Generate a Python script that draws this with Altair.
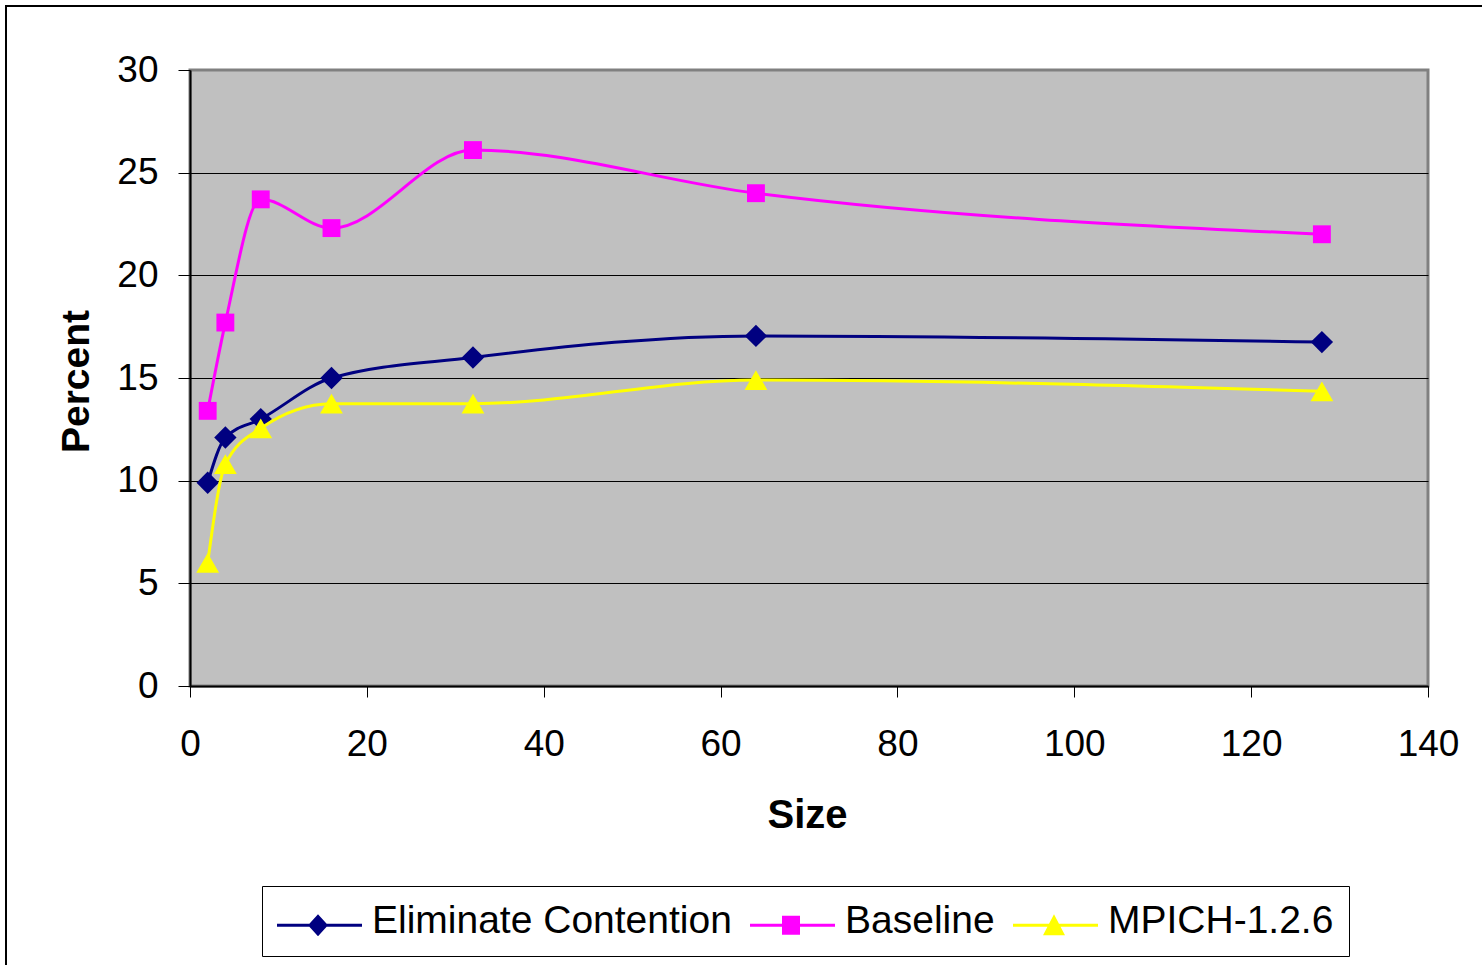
import altair as alt
import pandas as pd

# ---------------- data ----------------
sizes = [2, 4, 8, 16, 32, 64, 128]
eliminate_contention = [9.9, 12.1, 13.0, 15.0, 16.0, 17.05, 16.75]
baseline = [13.4, 17.7, 23.7, 22.3, 26.1, 24.0, 22.0]
mpich = [6.0, 10.8, 12.55, 13.75, 13.75, 14.9, 14.35]

series_names = ["Eliminate Contention", "Baseline", "MPICH-1.2.6"]
series_values = [eliminate_contention, baseline, mpich]

x_ticks = [0, 20, 40, 60, 80, 100, 120, 140]
y_ticks = [0, 5, 10, 15, 20, 25, 30]

# ---------------- styles ----------------
series_colors = ["#000080", "#FF00FF", "#FFFF00"]
marker_shapes = ["diamond", "square", "triangle-up"]
marker_sizes = [500, 320, 520]
FONT = "Liberation Sans"

# legend symbols: line segment + marker (unit = 10 px)
L, R, M, S, T = -1.95, 6.55, 2.15, 0.45, 0.15
line_part = f"M{L},{S - T}H{R}V{S + T}H{L}Z"
legend_paths = [
    line_part + f"M{M},{S - 1.1}L{M + 1.0},{S}L{M},{S + 1.1}L{M - 1.0},{S}Z",
    line_part + f"M{M - 0.9},{S - 0.95}H{M + 0.9}V{S + 0.95}H{M - 0.9}Z",
    line_part + f"M{M},{S - 1.1}L{M + 1.1},{S + 1.0}L{M - 1.1},{S + 1.0}Z",
]

rows = []
for name, vals in zip(series_names, series_values):
    for s, v in zip(sizes, vals):
        rows.append({"size": s, "percent": v, "series": name})
df = pd.DataFrame(rows)

x_enc = alt.X(
    "size:Q",
    scale=alt.Scale(domain=[0, 140], nice=False, zero=False),
    axis=alt.Axis(
        values=x_ticks, title="Size", grid=False,
        domainColor="black", domainWidth=2,
        tickColor="black", tickSize=11, tickWidth=1,
        labelFont=FONT, labelFontSize=37, labelColor="black",
        labelPadding=58, labelBaseline="alphabetic",
        labelFlush=False, labelOverlap=False,
        titleFont=FONT, titleFontSize=40, titleFontWeight="bold", titleColor="black",
        titleX=617, titleY=141, titleBaseline="alphabetic", titleAlign="center",
    ),
)
y_enc = alt.Y(
    "percent:Q",
    scale=alt.Scale(domain=[0, 30], nice=False),
    axis=alt.Axis(
        values=y_ticks, title="Percent", grid=True,
        gridColor={"condition": {"test": "datum.value >= 30", "value": "#808080"}, "value": "#000000"},
        gridWidth=1,
        domainColor="black", domainWidth=2,
        tickColor="black", tickSize=12, tickWidth=1,
        labelFont=FONT, labelFontSize=37, labelColor="black", labelPadding=20,
        labelFlush=False, labelOverlap=False,
        titleFont=FONT, titleFontSize=39, titleFontWeight="bold", titleColor="black",
        titleX=-102, titleY=311, titleBaseline="alphabetic", titleAlign="center", titleAngle=270,
    ),
)

base = alt.Chart(df).encode(x=x_enc, y=y_enc)

frame = alt.Chart(alt.Data(values=[{"k": 1}])).mark_rect(
    fill="transparent", stroke="black", strokeWidth=2
).encode(x=alt.value(-184), x2=alt.value(1400), y=alt.value(-64), y2=alt.value(1000))

layers = [frame]
for name, color, shape, msize in zip(series_names, series_colors, marker_shapes, marker_sizes):
    sub = base.transform_filter(alt.datum.series == name)
    layers.append(sub.mark_line(color=color, strokeWidth=3, interpolate="monotone"))
    layers.append(sub.mark_point(filled=True, shape=shape, size=msize, color=color, opacity=1))

legend_props = dict(
    title=None, orient="none", legendX=72, legendY=816, direction="horizontal", columns=3,
    labelFont=FONT, labelFontSize=39, labelColor="black", labelLimit=1000,
    labelOffset=56, columnPadding=18, padding=15,
    strokeColor="black", fillColor="white",
    symbolOpacity=1, symbolStrokeWidth=0, symbolSize=400, symbolOffset=0,
)
legend_layer = base.mark_point(filled=True, opacity=0, size=400).encode(
    fill=alt.Fill("series:N", scale=alt.Scale(domain=series_names, range=series_colors),
                  legend=alt.Legend(**legend_props)),
    shape=alt.Shape("series:N", scale=alt.Scale(domain=series_names, range=legend_paths),
                    legend=alt.Legend(**legend_props)),
)
layers.append(legend_layer)

chart = alt.layer(*layers).properties(
    width=1238, height=616,
    padding={"left": 190, "top": 70, "right": 54, "bottom": 279},
    autosize=alt.AutoSizeParams(type="none"),
).configure(background="white").configure_view(
    fill="#C0C0C0", stroke="#808080", strokeWidth=3
)

chart.save("out.html", embed_options={"renderer": "svg", "actions": False})
